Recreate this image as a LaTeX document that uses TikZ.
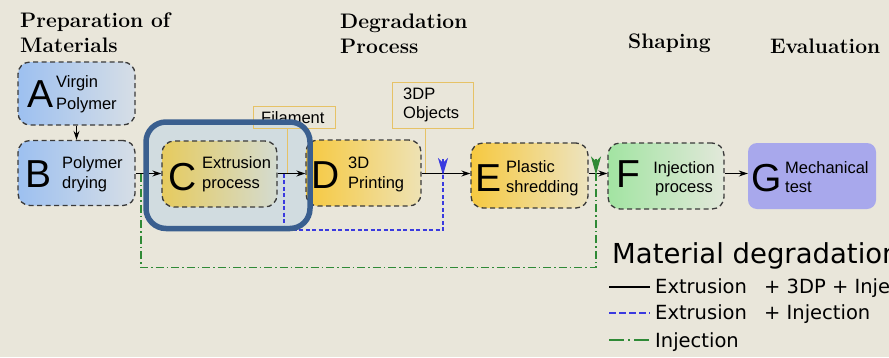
\documentclass[tikz,border=0pt]{standalone}
\usepackage{fontspec}
\newfontfamily\sansf{Liberation Sans}
\newfontfamily\legf{DejaVu Sans}
\usetikzlibrary{arrows.meta}

\definecolor{paper}{HTML}{E9E6DA}
\definecolor{boxline}{HTML}{3A3A3A}
\definecolor{blueL}{HTML}{9DC0F0}
\definecolor{blueR}{HTML}{D6DEE6}
\definecolor{goldL}{HTML}{F6C940}
\definecolor{goldR}{HTML}{EEE2B4}
\definecolor{mutedL}{HTML}{E6CB5E}
\definecolor{mutedR}{HTML}{D4DBD0}
\definecolor{greenL}{HTML}{A2E4A2}
\definecolor{greenR}{HTML}{E2E8DA}
\definecolor{lavender}{HTML}{A8A8EC}
\definecolor{tagline}{HTML}{E6C266}
\definecolor{fbblue}{HTML}{3A3ADF}
\definecolor{fbgreen}{HTML}{2F8A36}
\definecolor{focusline}{HTML}{3A5F8F}
\definecolor{focusfill}{HTML}{D1DCE0}

\tikzset{
  stage/.style={draw=boxline, line width=1.3pt, dash pattern=on 5pt off 3.5pt,
    rounded corners=12pt, inner sep=0pt},
  solidstage/.style={fill=lavender, rounded corners=9pt, inner sep=0pt},
  bigletter/.style={font=\sansf\fontsize{39}{39}\selectfont, anchor=base west, inner sep=0pt},
  lbl/.style={font=\sansf\fontsize{16.5}{20}\selectfont, anchor=base west, inner sep=0pt},
  clbl/.style={lbl, anchor=base},
  head/.style={font=\bfseries\fontsize{21}{25}\selectfont, anchor=base west, inner sep=0pt},
  legtitle/.style={font=\legf\fontsize{27.5}{32}\selectfont, anchor=base west, inner sep=0pt},
  legtext/.style={font=\legf\fontsize{19.5}{24}\selectfont, anchor=base west, inner sep=0pt},
  tagbox/.style={draw=tagline, line width=0.8pt, inner sep=0pt},
  leader/.style={draw=tagline, line width=0.8pt},
  flow/.style={draw=black, line width=1.2pt, -{Stealth[length=9pt,width=6pt]}},
  fbdash/.style={draw=fbblue, line width=1.2pt, dash pattern=on 4pt off 2.5pt},
  fbdashdot/.style={draw=fbgreen, line width=1.1pt, dash pattern=on 8pt off 3pt on 1.5pt off 3pt},
  focusback/.style={fill=focusfill, rounded corners=20pt, inner sep=0pt},
  focusrim/.style={draw=focusline, line width=5.5pt, rounded corners=20pt, inner sep=0pt},
}

\begin{document}
\begin{tikzpicture}[x=1pt,y=-1pt]
\useasboundingbox (0,0) rectangle (889,357);
\clip (0,0) rectangle (889,357);
\fill[paper] (0,0) rectangle (889,357);

% stage headings
\node[head] (h1a) at (20,27.5) {Preparation of};
\node[head] (h1b) at (20,52.5) {Materials};
\node[head] (h2a) at (340,28) {Degradation};
\node[head] (h2b) at (340,53) {Process};
\node[head] (h3) at (628,48) {Shaping};
\node[head] (h4) at (770,53) {Evaluation};

% tinted panel behind the extrusion step
\node[focusback, minimum width=164pt, minimum height=106.5pt] (focusC) at (228,175.25) {};

% junction points on the main line
\coordinate (row) at (0,173.5);
\coordinate (jB) at (141,173.5);
\coordinate (jC) at (284,173.5);
\coordinate (jF) at (287,173.5);
\coordinate (jO) at (425,173.5);
\coordinate (jD) at (443,175);
\coordinate (jE) at (596,174.5);

% product tags with leader lines
\node[tagbox, minimum width=82pt, minimum height=22pt] (fil) at (294,117) {};
\node[lbl] (filtext) at (261,123.5) {Filament};
\node[tagbox, minimum width=81pt, minimum height=46pt] (obj) at (432.5,105) {};
\node[lbl] (objtextA) at (403,99.5) {3DP};
\node[lbl] (objtextB) at (403,118) {Objects};
\draw[leader] (fil.south -| jF) -- (jF);
\draw[leader] (obj.south -| jO) -- (jO);

% process stages
\node[stage, left color=blueL, right color=blueR, minimum width=117pt, minimum height=63pt] (A) at (76.5,93.5) {};
\node[stage, left color=blueL, right color=blueR, minimum width=117pt, minimum height=65pt] (B) at (76.5,173) {};
\node[stage, left color=mutedL, right color=mutedR, minimum width=115pt, minimum height=66pt] (C) at (219.5,174) {};
\node[stage, left color=goldL, right color=goldR, minimum width=115pt, minimum height=66pt] (D) at (363.5,173) {};
\node[stage, left color=goldL, right color=goldR!70!paper, minimum width=117pt, minimum height=65pt] (E) at (529.5,175.5) {};
\node[stage, left color=greenL, right color=greenR, minimum width=116pt, minimum height=66pt] (F) at (666,176) {};
\node[solidstage, minimum width=128pt, minimum height=66pt] (G) at (812,176) {};

% stage letters and captions
\node[bigletter] (Al) at (27,107) {A};
\node[lbl] (At1) at (56,87.5) {Virgin};
\node[lbl] (At2) at (56,109.5) {Polymer};

\node[bigletter] (Bl) at (25,187) {B};
\node[lbl] (Bt1) at (62,168) {Polymer};
\node[lbl] (Bt2) at (62,188) {drying};

\node[bigletter] (Cl) at (168,190) {C};
\node[lbl] (Ct1) at (202,168) {Extrusion};
\node[lbl] (Ct2) at (202,188) {process};

\node[bigletter] (Dl) at (311,188) {D};
\node[lbl] (Dt1) at (348,168) {3D};
\node[lbl] (Dt2) at (348,188) {Printing};

\node[bigletter] (El) at (475,191) {E};
\node[lbl] (Et1) at (506,172) {Plastic};
\node[lbl] (Et2) at (506,192) {shredding};

\node[bigletter] (Fl) at (616,187) {F};
\node[clbl] (Ft1) at (684,173) {Injection};
\node[clbl] (Ft2) at (684,192) {process};

\node[bigletter] (Gl) at (751,191) {G};
\node[lbl] (Gt1) at (785,173) {Mechanical};
\node[lbl] (Gt2) at (785,192) {test};

% main flow
\draw[flow] (A.south) -- (B.north);
\draw[flow] (B.east |- row) -- (C.west |- row);
\draw[flow] (C.east |- row) -- (D.west |- row);
\draw[flow] (D.east |- row) -- (E.west |- row);
\draw[flow] (E.east |- row) -- (F.west |- row);
\draw[flow] (F.east |- row) -- (G.west |- row);

% bypass routes
\draw[fbdash] (jC) -- ++(0,56.5) -| ([yshift=14pt]jD);
\draw[fbblue, line width=1.2pt, -{Stealth[length=17pt,width=10pt,inset=5pt]}] ([yshift=16pt]jD) -- (jD);
\draw[fbdashdot] (jB) -- ++(0,94) -| ([yshift=14pt]jE);
\draw[fbgreen, line width=1.1pt, -{Stealth[length=18pt,width=10pt,inset=5pt]}] ([yshift=16pt]jE) -- (jE);

% rim of the highlighted extrusion step
\node[focusrim, minimum width=164pt, minimum height=106.5pt] (focusR) at (focusC) {};

% legend
\node[legtitle] (legT) at (612,263) {Material degradation};
\coordinate (l1a) at (609,287); \coordinate (l1b) at (650,287);
\coordinate (l2a) at (609,313); \coordinate (l2b) at (650,313);
\coordinate (l3a) at (609,340); \coordinate (l3b) at (650,340);
\draw[black, line width=1.5pt] (l1a) -- (l1b);
\draw[fbblue, line width=1.5pt, dash pattern=on 6.5pt off 3.5pt] (l2a) -- (l2b);
\draw[fbgreen, line width=1.5pt, dash pattern=on 15pt off 4pt on 2pt off 4pt] (l3a) -- (l3b);
\node[legtext] (leg1) at (655,293) {Extrusion\hspace{11pt} + 3DP + Injection};
\node[legtext] (leg2) at (655,319.5) {Extrusion\hspace{11pt} + Injection};
\node[legtext] (leg3) at (655,347) {Injection};
\end{tikzpicture}
\end{document}
